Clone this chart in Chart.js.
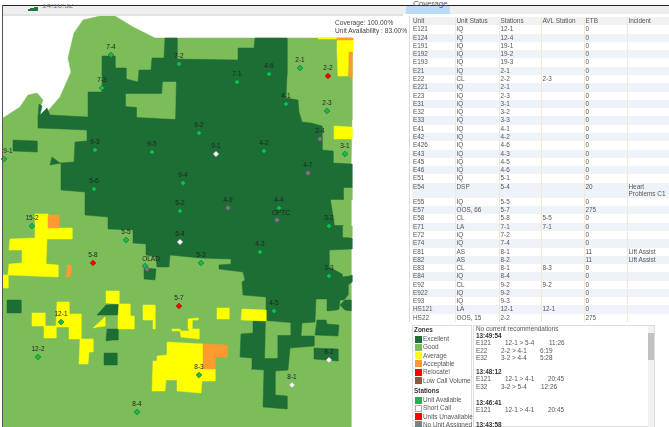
<!DOCTYPE html>
<html><head><meta charset="utf-8">
<script src="https://cdn.jsdelivr.net/npm/chart.js@4"></script>
<style>
html,body{margin:0;padding:0;background:#fff;width:669px;height:427px;overflow:hidden;font-family:"Liberation Sans",Arial,sans-serif;color:#555}
#root{position:relative;width:669px;height:427px;overflow:hidden;filter:blur(.3px)}
#root div,#root span,#root table{position:absolute}
canvas{position:absolute;left:0;top:0}
.t{white-space:nowrap;font-size:6.4px;line-height:8px}
table{border-collapse:collapse;table-layout:fixed;left:412px;top:17px;width:257px;font-size:6.4px;line-height:7.6px;color:#555}
#root table td,#root table th{position:static;font-weight:normal;text-align:left;padding:0 0 0 1px;border-right:1px solid #f6e7d2;vertical-align:top;height:8.29px;overflow:hidden;white-space:nowrap}
th{background:#f1f1f1}
tr:nth-child(even) td{background:#eef3fa}
</style></head><body><div id="root">
<canvas id="c" width="669" height="427"></canvas>
</div>
<script>
// ---------- map polygons, in map units ----------
const goodZones=[[[3,118],[20,107],[28,95],[37,93],[43,100],[38,113],[40,116],[47,112],[60,97],[71,72],[68,58],[74,33],[83,20],[100,16],[115,16],[133,27],[155,38],[352,38],[352,120],[351,172],[351,427],[3,427]]];
const excellentZones=[
[[38,128],[38,116],[39,104],[42,106],[40,115],[47,108],[50,115],[88,117],[88,92],[102,92],[102,56],[115,56],[115,68],[126,68],[126,79],[138,82],[139,70],[151,70],[152,58],[164,58],[165,38],[177,38],[177,59],[238,60],[238,48],[254,48],[255,38],[287,38],[287,75],[286,98],[298,100],[299,112],[302,122],[311,123],[322,126],[322,150],[333,151],[333,163],[352,164],[352,188],[344,188],[344,200],[331,200],[335,225],[343,225],[343,237],[352,238],[352,249],[329,250],[329,267],[342,274],[342,277],[350,276],[352,275],[352,282],[348,285],[348,295],[344,300],[340,300],[339,309],[337,310],[327,311],[327,299],[316,299],[315,322],[302,323],[301,336],[314,336],[314,346],[290,348],[288,370],[275,371],[275,395],[287,396],[287,409],[263,407],[264,370],[251,369],[252,358],[240,357],[241,334],[253,333],[253,321],[266,321],[266,297],[243,295],[242,282],[245,280],[243,272],[219,269],[219,265],[231,264],[231,259],[200,258],[170,255],[169,267],[157,267],[156,257],[146,255],[146,244],[133,243],[133,230],[109,229],[108,217],[85,215],[85,192],[61,190],[61,163],[50,165],[52,157],[60,163],[74,162],[75,142],[87,141],[87,130]],
[[317,320],[326,320],[327,324],[339,325],[338,336],[315,335]],
[[314,348],[338,349],[338,361],[314,359]],
[[340,305],[345,300],[351,300],[351,311],[345,310]],
[[13,140],[37,141],[37,152],[13,151]],
[[144,268],[156,269],[155,280],[144,279]],
[[7,300],[21,300],[21,313],[7,313]],
[[97,315],[106,305],[118,304],[118,315]],
[[107,329],[118,329],[118,340],[113,340],[106,341]],
[[104,353],[117,353],[117,365],[104,365]]];
const goodHoles=[
[[126,94],[162,94],[163,82],[176,82],[175,119],[137,117],[137,107],[126,106]],
[[266,321],[290,323],[290,335],[277,335],[277,358],[265,358]],
[[331,200],[343,200],[343,225],[335,225]],
[[344,188],[352,188],[352,200],[344,200]],
[[343,226],[352,226],[352,237],[343,237]]];
const averageZones=[
[[35,214],[48,214],[48,228],[72,228],[72,239],[47,239],[46,264],[58,265],[58,277],[8,275],[9,264],[22,263],[22,250],[9,250],[10,239],[35,238]],
[[3,275],[8,275],[8,288],[3,288]],
[[106,291],[119,291],[119,304],[106,303]],
[[119,304],[130,304],[130,316],[134,316],[134,329],[118,329],[118,316]],
[[143,305],[155,305],[155,329],[153,329],[153,320],[143,320]],
[[93,328],[105,317],[105,326],[98,327]],
[[57,302],[69,302],[69,314],[81,314],[81,339],[69,339],[69,327],[56,327]],
[[32,313],[45,313],[45,326],[32,326]],
[[44,326],[56,326],[56,338],[44,338]],
[[80,339],[93,339],[93,352],[89,352],[88,364],[79,364]],
[[172,329],[180,329],[180,331],[172,331]],
[[180,331],[189,331],[189,329],[199,329],[199,339],[181,337]],
[[188,319],[198,318],[198,320],[192,320],[192,329],[188,329]],
[[167,342],[203,344],[203,369],[215,369],[215,381],[202,381],[201,393],[177,391],[177,380],[166,380],[165,391],[152,391],[153,361],[157,361],[157,356],[167,355]],
[[217,308],[229,308],[229,319],[217,319]],
[[242,309],[266,310],[266,321],[241,320]],
[[337,40],[353,40],[353,52],[349,52],[348,76],[338,76],[337,52]],
[[318,38],[337,38],[337,39],[318,39]],
[[334,126],[352,127],[352,139],[334,139]]];
const acceptableZones=[
[[48,215],[59,215],[59,228],[48,228]],
[[67,265],[71,265],[71,274],[69,277],[65,277],[65,276],[67,275]],
[[203,344],[227,345],[227,357],[215,357],[215,369],[203,369]],
[[337,38],[353,38],[353,40],[337,40]],
[[349,52],[352,52],[352,77],[349,77]]];
// ---------- stations: name, x, y ----------
const availableStations=[["7-4",111,55],["7-2",179,64],["7-3",102,88],["9-2",199,133],["9-3",95,150],["9-5",152,152],["9-1",4,159],["5-6",94,189],["9-4",183,183],["5-2",180,211],["7-1",237,82],["4-6",269,74],["2-1",300,68],["4-1",286,104],["2-3",327,111],["4-2",264,151],["3-1",345,154],["4-4",279,208],["3-2",329,226],["4-3",260,252],["5-3",201,263],["3-3",329,276],["4-5",274,311],["15-2",32,226],["5-5",126,240],["",145,266],["12-1",61,322],["12-2",38,357],["8-3",199,375],["8-4",137,412]];
const shortCallStations=[["9-1",216,154],["5-4",180,242],["8-2",329,360],["8-1",292,385]];
const unavailableStations=[["2-2",328,76],["5-8",93,263],["5-7",179,306]];
const unassignedStations=[["2-4",320,139],["4-7",308,173],["4-9",228,208],["OLAD",147,269],["OPTC",277,220]];
// ---------- table ----------
const tableColumns=["Unit","Unit Status","Stations","AVL Station","ETB","Incident"];
const tableRows=[["E121","IQ","12-1","","0",""],["E124","IQ","12-4","","0",""],["E191","IQ","19-1","","0",""],["E192","IQ","19-2","","0",""],["E193","IQ","19-3","","0",""],["E21","IQ","2-1","","0",""],["E22","CL","2-2","2-3","0",""],["E221","IQ","2-1","","0",""],["E23","IQ","2-3","","0",""],["E31","IQ","3-1","","0",""],["E32","IQ","3-2","","0",""],["E33","IQ","3-3","","0",""],["E41","IQ","4-1","","0",""],["E42","IQ","4-2","","0",""],["E426","IQ","4-6","","0",""],["E43","IQ","4-3","","0",""],["E45","IQ","4-5","","0",""],["E46","IQ","4-6","","0",""],["E51","IQ","5-1","","0",""],["E54","DSP","5-4","","20","Heart<br>Problems C1"],["E55","IQ","5-5","","0",""],["E57","OOS, 66","5-7","","275",""],["E58","CL","5-8","5-5","0",""],["E71","LA","7-1","7-1","0",""],["E72","IQ","7-2","","0",""],["E74","IQ","7-4","","0",""],["E81","AS","8-1","","11","Lift Assist"],["E82","AS","8-2","","11","Lift Assist"],["E83","CL","8-1","8-3","0",""],["E84","IQ","8-4","","0",""],["E92","CL","9-2","9-2","0",""],["E922","IQ","9-2","","0",""],["E93","IQ","9-3","","0",""],["HS121","LA","12-1","12-1","0",""],["HS22","OOS, 15","2-2","","275",""]];
const columnWidths=[43,44,42,43,43,42];
const zoneLegend=[["Excellent","#1c6e34"],["Good","#7cbd5a"],["Average","#ffff00"],["Acceptable","#ff9a2e"],["Relocate!","#ff0000"],["Low Call Volume","#8a5a3c"]];
const stationLegend=[["Unit Available","#22b14c"],["Short Call","#ffffff"],["Units Unavailable","#ff0000"],["No Unit Assigned","#808080"]];
const recommendations=[
 {head:"13:49:54",y:336,lines:[["E121","12-1 > 5-4","11:26",505,549],["E22","2-2 > 4-1","6:19",501,540],["E32","3-2 > 4-4","5:28",501,540]]},
 {head:"13:48:12",y:372,lines:[["E121","12-1 > 4-1","20:45",505,548],["E32","3-2 > 5-4","12:26",501,541]]},
 {head:"13:46:41",y:403,lines:[["E121","12-1 > 4-1","20:45",505,548]]},
 {head:"13:43:58",y:425,lines:[]}];

const root=document.getElementById('root');
function box(l,t,w,h,css){const d=document.createElement('div');d.style.cssText=`left:${l}px;top:${t}px;width:${w}px;height:${h}px;${css||''}`;root.appendChild(d);return d}
function txt(s,l,cy,css){const d=document.createElement('div');d.className='t';d.textContent=s;d.style.cssText=`left:${l}px;top:${cy-4}px;${css||''}`;root.appendChild(d);return d}

function poly(p,color){const pts=p.concat([p[0]]).map(q=>({x:q[0],y:q[1]}));return {data:pts,showLine:true,fill:'shape',backgroundColor:color,borderColor:color,borderWidth:.5,pointRadius:0,tension:0}}
function stations(list,color,edge){return {data:list.map(s=>({x:s[1],y:s[2],name:s[0]})),showLine:false,backgroundColor:color,borderColor:edge,borderWidth:.7,pointStyle:'rectRot',pointRadius:2.8}}
const layers=[].concat(goodZones.map(p=>poly(p,'#7cbd5a')),excellentZones.map(p=>poly(p,'#1c6e34')),goodHoles.map(p=>poly(p,'#7cbd5a')),averageZones.map(p=>poly(p,'#ffff00')),acceptableZones.map(p=>poly(p,'#ff9a2e')),
 [stations(availableStations,'#10c050','#0f6b2e'),stations(shortCallStations,'#ffffff','#aaaaaa'),stations(unavailableStations,'#ff0000','#b00000'),stations(unassignedStations,'#77777f','#55555c')]);
layers.forEach((d,i)=>d.order=layers.length-i);
const stationLabels={id:'stationLabels',afterDatasetsDraw(ch){const c=ch.ctx,x=ch.scales.x,y=ch.scales.y;c.save();c.font='6.5px "Liberation Sans"';c.fillStyle='#222';c.textAlign='center';c.textBaseline='middle';
 availableStations.concat(shortCallStations,unavailableStations,unassignedStations).forEach(s=>{if(!s[0])return;let dx=0,dy=-8;if(s[0]==='9-1'&&s[1]<10)dx=4;if(s[0]==='OPTC')dx=4,dy=-7;if(s[0]==='OLAD')dx=4,dy=-10;c.fillText(s[0],x.getPixelForValue(s[1]+dx),y.getPixelForValue(s[2]+dy))});c.restore()}};
new Chart(document.getElementById('c'),{type:'scatter',data:{datasets:layers},plugins:[stationLabels],options:{responsive:false,animation:false,layout:{autoPadding:false,padding:0},plugins:{legend:{display:false},tooltip:{enabled:false}},
 scales:{x:{type:'linear',display:false,min:0,max:669},y:{type:'linear',display:false,reverse:true,min:0,max:427}}}});

// ---------- page chrome ----------
box(3,0,666,5,'background:#fff');
box(3,5,666,9,'background:#eeeeee');
box(3,14,400,2,'background:#e2e2e2');
box(406,6,44,8,'background:#b9dbf7');
box(2,5,667,1,'background:#222');
box(2,5,1,422,'background:#555');
[[28,9],[30,8],[32,8],[34,7],[36,7]].forEach(b=>box(b[0],b[1],1.5,10-b[1]+1,'background:#1c7a3a'));
txt('14:10:32',42,6,'font-size:8px;color:#777;clip-path:inset(2px 0 0 0)');
txt('Coverage',413,4,'font-size:8px;color:#555');
txt('Coverage: 100.00%',335,23,'font-size:6.6px;color:#444');
txt('Unit Availability : 83.00%',335,31,'font-size:6.6px;color:#444');
box(409,16,1,306,'background:#dddddd');

// ---------- table ----------
const tbl=document.createElement('table');
tbl.innerHTML='<colgroup>'+columnWidths.map(w=>`<col style="width:${w}px">`).join('')+'</colgroup><thead><tr>'+tableColumns.map(c=>`<th>${c}</th>`).join('')+'</tr></thead><tbody>'+tableRows.map(r=>'<tr>'+r.map(c=>`<td>${c}</td>`).join('')+'</tr>').join('')+'</tbody>';
root.appendChild(tbl);

// ---------- legend ----------
box(405,323,264,104,'background:#fff');
box(412,325,60,102,'background:#fff;border:1px solid #ddd;box-sizing:border-box');
txt('Zones',414,330,'font-weight:bold;color:#333');
zoneLegend.forEach((z,i)=>{const cy=339+i*8.3;box(415,cy-3.5,7,7,`background:${z[1]}`);txt(z[0],423,cy)});
txt('Stations',414,391,'font-weight:bold;color:#333');
stationLegend.forEach((z,i)=>{const cy=400+i*8.3;box(415,cy-3.5,7,7,`background:${z[1]};${z[1]==='#ffffff'?'border:1px solid #aaa;box-sizing:border-box':''}`);txt(z[0],423,cy)});

// ---------- recommendations ----------
box(473,325,182,102,'background:#fff;border:1px solid #ddd;box-sizing:border-box');
box(648,326,6,101,'background:#f1f1f1');
box(648,333,6,27,'background:#c1c1c1');
txt('No current recommendations',476,329);
recommendations.forEach(g=>{txt(g.head,476,g.y,'font-weight:bold;color:#333');
 g.lines.forEach((l,i)=>{const cy=g.y+7.3*(i+1);txt(l[0],476,cy);txt(l[1],l[3],cy);txt(l[2],l[4],cy)})});
</script></body></html>
